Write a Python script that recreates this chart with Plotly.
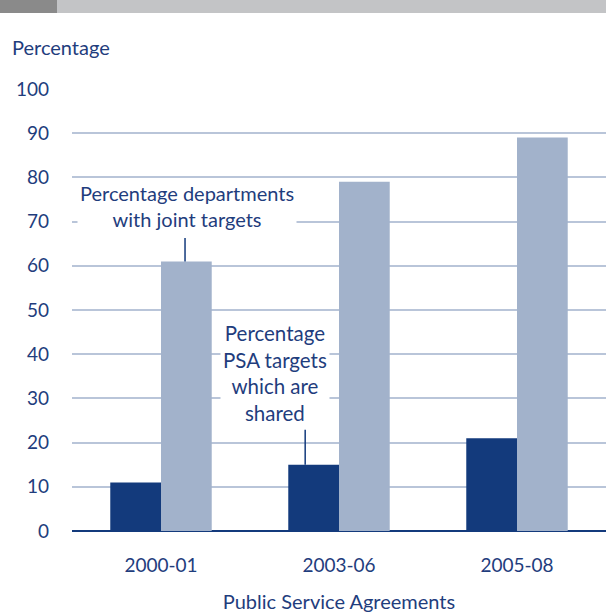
import plotly.graph_objects as go

categories = ["2000-01", "2003-06", "2005-08"]
shared_psa = [11, 15, 21]
joint_depts = [61, 79, 89]
y_ticks = [0, 10, 20, 30, 40, 50, 60, 70, 80, 90, 100]

NAVY = "#133a7c"
LIGHT = "#a2b2cb"
TEXT = "#1f3d7d"
GRID = "#b9c5d9"
FONT = "Lato, 'Open Sans', sans-serif"

W, H = 606, 616
ml, mr, mt, mb = 72, 0, 89, 85
pw, ph = W - ml - mr, H - mt - mb

def px_x(p):
    return (p - ml) / pw

def px_y(p):
    return (H - mb - p) / ph

fig = go.Figure()
fig.add_trace(go.Bar(x=categories, y=shared_psa, marker_color=NAVY,
                     marker_line_width=0, name="Percentage PSA targets which are shared"))
fig.add_trace(go.Bar(x=categories, y=joint_depts, marker_color=LIGHT,
                     marker_line_width=0, name="Percentage departments with joint targets"))

shapes = [
    dict(type="rect", xref="paper", yref="paper", x0=px_x(0), x1=1, y0=px_y(13), y1=px_y(0),
         fillcolor="#c3c4c6", line_width=0, layer="above"),
    dict(type="rect", xref="paper", yref="paper", x0=px_x(0), x1=px_x(57), y0=px_y(13), y1=px_y(0),
         fillcolor="#8a8a8a", line_width=0, layer="above"),
    # leader lines
    dict(type="line", xref="x", yref="y", x0=0.135, x1=0.135, y0=joint_depts[0], y1=66.3,
         line=dict(color=NAVY, width=1.5), layer="above"),
    dict(type="line", xref="x", yref="y", x0=0.81, x1=0.81, y0=shared_psa[1], y1=22.9,
         line=dict(color=NAVY, width=1.5), layer="above"),
]

annotations = [
    dict(text="Percentage", xref="paper", yref="paper", x=px_x(10), y=px_y(47),
         xanchor="left", yanchor="middle", showarrow=False,
         font=dict(family=FONT, size=20, color=TEXT)),
    dict(text="Percentage departments<br>with joint targets", xref="x", yref="y",
         x=0.146, y=73.5, xanchor="center", yanchor="middle", showarrow=False,
         bgcolor="white", borderpad=2, align="center",
         font=dict(family=FONT, size=20, color=TEXT)),
    dict(text="Percentage<br>PSA targets<br>which are<br>shared", xref="x", yref="y",
         x=0.64, y=35.7, xanchor="center", yanchor="middle", showarrow=False,
         bgcolor="white", borderpad=2, align="center",
         font=dict(family=FONT, size=20.5, color=TEXT)),
]

fig.update_layout(
    width=W, height=H,
    margin=dict(l=ml, r=mr, t=mt, b=mb),
    paper_bgcolor="white", plot_bgcolor="white",
    barmode="group", bargap=0.43, bargroupgap=0,
    showlegend=False,
    font=dict(family=FONT, size=18, color=TEXT),
    shapes=shapes, annotations=annotations,
    xaxis=dict(
        type="category",
        title=dict(text="Public Service Agreements", standoff=19,
                   font=dict(family=FONT, size=20, color=TEXT)),
        tickfont=dict(family=FONT, size=19, color=TEXT),
        showgrid=False, showline=False, ticks="", ticklabelstandoff=21,
    ),
    yaxis=dict(
        range=[0, 100], tickvals=y_ticks,
        tickfont=dict(family=FONT, size=19, color=TEXT),
        showgrid=True, gridcolor=GRID, gridwidth=2,
        zeroline=True, zerolinecolor=NAVY, zerolinewidth=2,
        showline=False, ticks="", ticklabelstandoff=22,
    ),
)

fig.write_html("out.html", config={"displayModeBar": False},
               post_script="document.body.style.margin='0px';")
